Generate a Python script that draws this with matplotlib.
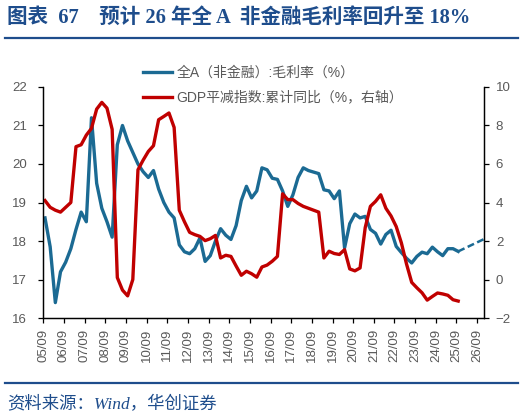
import numpy as np
import pandas as pd
import matplotlib
matplotlib.use("Agg")
import matplotlib.pyplot as plt
from matplotlib.lines import Line2D

# quarterly data, 2005Q3 .. 2025Q3
quarters = pd.period_range("2005Q3", "2025Q3", freq="Q")

gross_margin = [
    18.6, 17.85, 16.4, 17.2, 17.45, 17.8, 18.3, 18.75, 18.5, 21.2,
    19.5, 18.85, 18.5, 18.1, 20.5, 21.0, 20.6, 20.3, 20.0, 19.8,
    19.65, 19.83, 19.35, 19.0, 18.75, 18.6, 17.9, 17.72, 17.67, 17.8,
    18.08, 17.47, 17.62, 18.0, 18.32, 18.15, 18.04, 18.4, 19.05, 19.42,
    19.12, 19.3, 19.9, 19.85, 19.63, 19.6, 19.3, 18.9, 19.2, 19.65,
    19.9, 19.83, 19.79, 19.75, 19.33, 19.3, 19.1, 19.3, 17.82, 18.45,
    18.7, 18.6, 18.64, 18.3, 18.2, 17.92, 18.17, 18.28, 17.86, 17.7,
    17.55, 17.43, 17.6, 17.71, 17.67, 17.84, 17.72, 17.62, 17.8, 17.8,
    17.73,
]

gdp_deflator = [
    4.1, 3.75, 3.6, 3.5, 3.75, 4.0, 6.9, 7.0, 7.5, 7.85,
    8.85, 9.2, 8.9, 7.8, 0.1, -0.55, -0.85, 0.0, 5.7, 6.2,
    6.65, 6.95, 8.3, 8.47, 8.65, 7.9, 3.6, 3.0, 2.45, 2.33,
    2.24, 2.02, 2.12, 2.29, 1.12, 1.26, 1.2, 0.7, 0.22, 0.43,
    0.3, 0.12, 0.65, 0.75, 0.95, 1.2, 4.45, 4.15, 4.15, 3.95,
    3.8, 3.7, 3.6, 3.5, 1.12, 1.47, 1.35, 1.3, 1.55, 0.55,
    0.45, 0.6, 2.7, 3.8, 4.06, 4.4, 3.7, 3.3, 2.75, 1.9,
    0.8, -0.15, -0.43, -0.69, -1.07, -0.88, -0.7, -0.75, -0.82, -1.05,
    -1.12,
]

# forecast: 2025Q3 -> 2026Q4
forecast_q = ["2025Q3", "2026Q4"]
forecast_margin = [17.73, 18.05]

tick_years = list(range(2005, 2027))


def qx(p):
    p = pd.Period(p, freq="Q")
    return p.year + p.quarter * 0.25


x = [qx(p) for p in quarters]
xf = [qx(p) for p in forecast_q]

blue = "#1B6A93"
red = "#C00000"
navy = "#1E4D8C"
grey = "#595959"

plt.rcParams["font.family"] = ["Liberation Sans", "Noto Sans CJK SC", "DejaVu Sans"]

fig = plt.figure(figsize=(5.24, 4.18), dpi=100)
ax1 = fig.add_axes([0.0826, 0.2392, 0.8411, 0.5527])
ax2 = ax1.twinx()

ax1.plot(x, gross_margin, color=blue, lw=2.4, solid_joinstyle="round")
ax1.plot(xf, forecast_margin, color=blue, lw=1.8, ls=(0, (2.8, 1.4)))
ax2.plot(x, gdp_deflator, color=red, lw=2.4, solid_joinstyle="round")

ax1.set_xlim(2005 + 8 / 12, 2027.0)
ax1.set_ylim(16, 22)
ax2.set_ylim(-2, 10)
ax1.set_yticks(range(16, 23))
ax2.set_yticks(range(-2, 11, 2))
ax1.set_xticks([y + 8 / 12 for y in tick_years])
ax1.set_xticklabels(["%02d/09" % (y % 100) for y in tick_years], rotation=90)

for ax in (ax1, ax2):
    ax.spines["top"].set_visible(False)
    for s in ("left", "right", "bottom"):
        ax.spines[s].set_linewidth(0.9)
        ax.spines[s].set_color("black")
    ax.tick_params(colors="black", labelcolor=grey, labelsize=9.5, length=3.5, width=0.9)
ax1.tick_params(axis="y", pad=8)
ax1.tick_params(axis="x", pad=4)
ax2.tick_params(axis="y", pad=5)

handles = [Line2D([], [], color=blue, lw=2.4), Line2D([], [], color=red, lw=2.4)]
labels = ["全A（非金融）:毛利率（%）", "GDP平减指数:累计同比（%，右轴）"]
fig.legend(handles, labels, loc="upper left", bbox_to_anchor=(0.262, 0.855),
           frameon=False, fontsize=10, labelcolor=grey, handlelength=2.1,
           handletextpad=0.3, labelspacing=0.75, borderaxespad=0)

fig.text(0.013, 0.957, "图表  67    预计 26 年全 A  非金融毛利率回升至 18%",
         family=["Liberation Serif", "Noto Sans CJK SC"], fontweight="bold",
         fontsize=14.8, color=navy, va="center", ha="left")
fig.add_artist(Line2D([0.01, 0.988], [0.908, 0.908], color=navy, lw=1.6))
fig.add_artist(Line2D([0.01, 0.988], [0.084, 0.084], color=navy, lw=1.6))
fig.text(0.013, 0.032, "资料来源：Wind，华创证券",
         family=["Liberation Serif", "Noto Sans CJK SC"], style="italic",
         fontsize=12.5, color=navy, va="center", ha="left")

fig.savefig("out.png", dpi=100)
